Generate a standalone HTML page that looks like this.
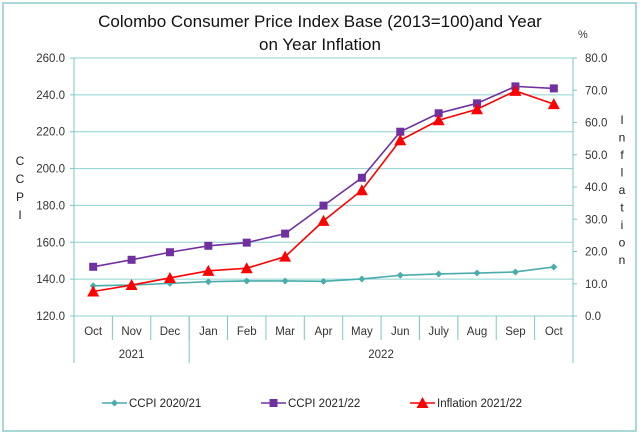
<!DOCTYPE html>
<html><head><meta charset="utf-8"><style>
body{margin:0;background:#fff}
svg{display:block;font-family:"Liberation Sans",sans-serif}
</style></head><body>
<svg id="c" width="640" height="435" viewBox="0 0 640 435">
<rect x="3" y="3" width="633" height="428" fill="#fff" stroke="#a9d8d8" stroke-width="2"/>
<text x="320" y="27" text-anchor="middle" font-size="17" fill="#111">Colombo Consumer Price Index Base (2013=100)and Year</text>
<text x="320" y="50" text-anchor="middle" font-size="17" fill="#111">on Year Inflation</text>
<text x="578" y="38" font-size="11" fill="#333">%</text>
<g id="grid"></g>
<g id="axes"></g>
<g id="series"></g>
<g id="legend"></g>
</svg>
<script>
const categories=["Oct","Nov","Dec","Jan","Feb","Mar","Apr","May","Jun","July","Aug","Sep","Oct"];
const years=[{label:"2021",start:0,end:3},{label:"2022",start:3,end:13}];
const ccpi2021=[136.4,136.8,137.7,138.6,139.0,139.0,138.8,140.1,142.1,142.8,143.3,143.9,146.6];
const ccpi2122=[146.7,150.5,154.6,158.1,159.8,164.7,179.9,195.0,220.0,230.0,235.4,244.6,243.5];
const inflation=[7.6,9.6,11.8,14.0,14.8,18.4,29.5,39.0,54.5,60.7,64.1,69.8,65.7];
const leftTicks=[120,140,160,180,200,220,240,260];
const rightTicks=[0,10,20,30,40,50,60,70,80];
const NS="http://www.w3.org/2000/svg";
const X0=74,X1=573,Y0=316,Y1=58;
const bw=(X1-X0)/categories.length;
const xs=i=>X0+bw*(i+0.5);
const yl=v=>Y0-(v-120)/(260-120)*(Y0-Y1);
const yr=v=>Y0-v/80*(Y0-Y1);
function mk(p,t,a){const e=document.createElementNS(NS,t);for(const k in a)e.setAttribute(k,a[k]);p.appendChild(e);return e;}
const grid=document.getElementById('grid'),axes=document.getElementById('axes'),ser=document.getElementById('series'),leg=document.getElementById('legend');
leftTicks.forEach(v=>{
 const l=mk(grid,'line',{x1:X0,x2:X1,y1:yl(v),y2:yl(v),stroke:'#8fd0d0','stroke-width':1});
 
 
 const t=mk(axes,'text',{x:65,y:yl(v)+4,'text-anchor':'end','font-size':11.5,fill:'#333'});t.textContent=v.toFixed(1);
 
 
 mk(axes,'line',{x1:X0-4,x2:X0,y1:yl(v),y2:yl(v),stroke:'#7cc7c7'});
});
rightTicks.forEach(v=>{
 const t=mk(axes,'text',{x:585,y:yr(v)+4,'font-size':11.5,fill:'#333'});t.textContent=v.toFixed(1);
 
 
 mk(axes,'line',{x1:X1,x2:X1+4,y1:yr(v),y2:yr(v),stroke:'#7cc7c7'});
});
mk(axes,'line',{x1:X0,x2:X0,y1:Y1,y2:363,stroke:'#7cc7c7'});
mk(axes,'line',{x1:X1,x2:X1,y1:Y1,y2:363,stroke:'#7cc7c7'});
categories.forEach((c,i)=>{
 const t=mk(axes,'text',{x:xs(i),y:335,'text-anchor':'middle','font-size':11.5,fill:'#333'});t.textContent=c;
 
 
 if(i>0)mk(axes,'line',{x1:X0+bw*i,x2:X0+bw*i,y1:Y0,y2:340,stroke:'#7cc7c7'});
});
years.forEach(y=>{
 const t=mk(axes,'text',{x:X0+bw*(y.start+y.end)/2,y:358,'text-anchor':'middle','font-size':11.5,fill:'#333'});t.textContent=y.label;
 
 
 mk(axes,'line',{x1:X0+bw*y.end,x2:X0+bw*y.end,y1:Y0,y2:363,stroke:'#7cc7c7'});
});
"CCPI".split("").forEach((ch,i)=>{const t=mk(axes,'text',{x:20,y:165+i*18,'text-anchor':'middle','font-size':12,fill:'#222'});t.textContent=ch;
 
 });
"Inflation".split("").forEach((ch,i)=>{const t=mk(axes,'text',{x:622,y:124+i*17.5,'text-anchor':'middle','font-size':12,fill:'#222'});t.textContent=ch;
 
 });
function marker(g,type,x,y,col){
 if(type==='d')return mk(g,'path',{d:`M${x} ${y-3.5}L${x+3.5} ${y}L${x} ${y+3.5}L${x-3.5} ${y}Z`,fill:col});
 if(type==='s')return mk(g,'rect',{x:x-4,y:y-4,width:8,height:8,fill:col});
 return mk(g,'path',{d:`M${x} ${y-6}L${x+6} ${y+5}L${x-6} ${y+5}Z`,fill:col});
}
function series(vals,fy,col,type,name){
 const g=mk(ser,'g',{});
 
 
 mk(g,'polyline',{points:vals.map((v,i)=>xs(i)+','+fy(v)).join(' '),fill:'none',stroke:col,'stroke-width':1.6});
 vals.forEach((v,i)=>{const m=marker(g,type,xs(i),fy(v),col);
  
  });
}
series(ccpi2021,yl,'#4bacac','d','ccpi-2020-21-series');
series(ccpi2122,yl,'#7030a0','s','ccpi-2021-22-series');
series(inflation,yr,'#ff0000','t','inflation-series');
[["CCPI 2020/21",'#4bacac','d',102],["CCPI 2021/22",'#7030a0','s',261],["Inflation 2021/22",'#ff0000','t',410]].forEach(e=>{
 const g=mk(leg,'g',{});
 
 
 mk(g,'line',{x1:e[3],x2:e[3]+25,y1:403,y2:403,stroke:e[1],'stroke-width':1.6});
 marker(g,e[2],e[3]+12.5,403,e[1]);
 const t=mk(g,'text',{x:e[3]+27,y:407,'font-size':11.5,fill:'#222'});t.textContent=e[0];
});
</script>
</body></html>
